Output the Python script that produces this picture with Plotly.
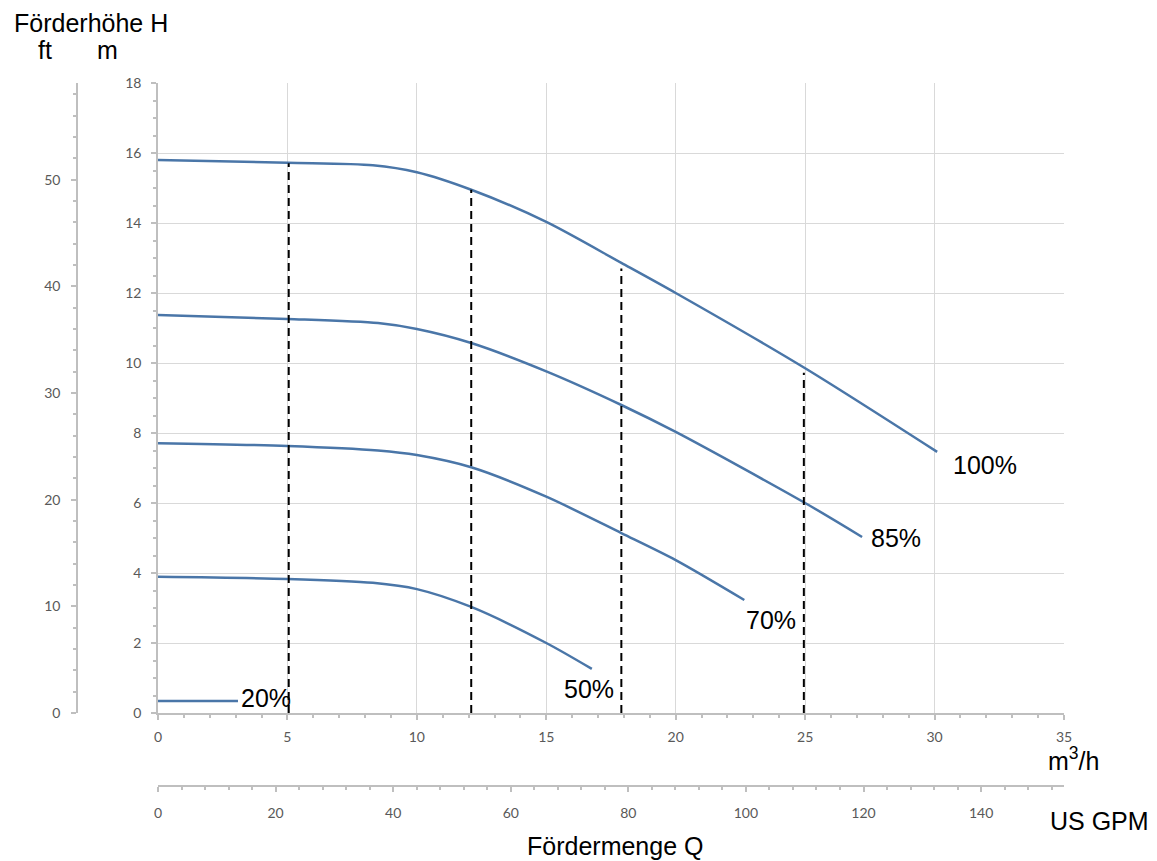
import plotly.graph_objects as go

# ---------------- data ----------------
Q_100 = [0, 5, 8.3, 10, 12.1, 15, 17.9, 20, 25, 30.1]
H_100 = [15.8, 15.72, 15.65, 15.45, 14.95, 14.03, 12.86, 12.0, 9.85, 7.46]
Q_85 = [0, 5, 8.5, 10, 12.1, 15, 17.9, 20, 25, 27.2]
H_85 = [11.37, 11.26, 11.14, 10.97, 10.57, 9.76, 8.8, 8.03, 6.0, 5.03]
Q_70 = [0, 5, 8.5, 10, 12.1, 15, 17.9, 20, 22.65]
H_70 = [7.71, 7.63, 7.5, 7.37, 7.02, 6.18, 5.14, 4.37, 3.23]
Q_50 = [0, 5, 8.3, 10, 12.1, 15, 16.76]
H_50 = [3.89, 3.83, 3.72, 3.54, 3.03, 2.0, 1.26]
Q_20 = [0, 3.09]
H_20 = [0.34, 0.34]

DASH_Q = [5.05, 12.1, 17.9, 24.95]
DASH_TOP = [15.71, 14.95, 12.7, 9.72]

LABEL_TEXT = ["100%", "85%", "70%", "50%", "20%"]
LABEL_Q = [30.67, 27.5, 22.67, 15.64, 3.17]
LABEL_H = [7.09, 5.0, 2.66, 0.69, 0.43]

Q_MAX = 35          # m3/h
H_MAX = 18          # m
M3H_TO_GPM = 4.40287
M_TO_FT = 1 / 0.3048

# ---------------- layout geometry ----------------
OFF = 8  # default page body margin
W, H = 1157 - OFF, 861 - OFF
ML, MR, MT, MB = 0, 93, 83 - OFF, 0
PW = W - ML - MR
PH = H - MT - MB


def px_x(px):
    return (px - OFF - ML) / PW


def px_y(py):
    return (H - MB - (py - OFF)) / PH


CURVE_COLOR = "#4a76a8"
AXIS_COLOR = "#bfbfbf"
GRID_COLOR = "#d9d9d9"
TICK_FONT = dict(family="Lato, Liberation Sans, Arial", size=14, color="#595959")
TEXT_FONT = dict(family="Liberation Sans, Arial", size=25, color="#000000")

fig = go.Figure()

for qs, hs in [(Q_100, H_100), (Q_85, H_85), (Q_70, H_70), (Q_50, H_50), (Q_20, H_20)]:
    fig.add_trace(go.Scatter(
        x=qs, y=hs, mode="lines",
        line=dict(color=CURVE_COLOR, width=2.5, shape="spline", smoothing=0.8),
        showlegend=False, hoverinfo="skip"))

for q, top in zip(DASH_Q, DASH_TOP):
    fig.add_trace(go.Scatter(
        x=[q, q], y=[0, top], mode="lines",
        line=dict(color="#000000", width=2, dash="8px,5px"),
        showlegend=False, hoverinfo="skip"))

# invisible traces to activate secondary axes
fig.add_trace(go.Scatter(x=[0], y=[0], xaxis="x2", yaxis="y", mode="markers",
                         marker=dict(opacity=0), showlegend=False, hoverinfo="skip"))
fig.add_trace(go.Scatter(x=[0], y=[0], xaxis="x", yaxis="y2", mode="markers",
                         marker=dict(opacity=0), showlegend=False, hoverinfo="skip"))

x_dom = [px_x(158), 1.0]
y_dom = [px_y(713), px_y(83)]

common_axis = dict(showline=True, linecolor=AXIS_COLOR, linewidth=1.5,
                   ticks="outside", tickcolor=AXIS_COLOR, ticklen=5, tickwidth=1.5,
                   tickfont=TICK_FONT, zeroline=False, automargin=False,
                   fixedrange=True)

fig.update_layout(
    width=W, height=H,
    template="none",
    paper_bgcolor="white", plot_bgcolor="white",
    margin=dict(l=ML, r=MR, t=MT, b=MB, pad=0),
    showlegend=False,
    xaxis=dict(domain=x_dom, range=[0, Q_MAX], dtick=5, tick0=0,
               showgrid=True, gridcolor=GRID_COLOR, gridwidth=1,
               anchor="y", ticklabelstandoff=5,
               minor=dict(dtick=1, ticks="outside", ticklen=3, tickcolor=AXIS_COLOR,
                          tickwidth=1.5, showgrid=False),
               **common_axis),
    yaxis=dict(domain=y_dom, range=[0, H_MAX], dtick=2, tick0=0,
               showgrid=True, gridcolor=GRID_COLOR, gridwidth=1,
               anchor="x", ticklabelstandoff=7,
               minor=dict(dtick=0.5, ticks="outside", ticklen=3, tickcolor=AXIS_COLOR,
                          tickwidth=1.5, showgrid=False),
               **common_axis),
    xaxis2=dict(overlaying="x", anchor="free", position=px_y(786), side="bottom",
                range=[0, Q_MAX * M3H_TO_GPM], dtick=20, tick0=0, showgrid=False,
                ticklabelstandoff=9,
                minor=dict(dtick=4, ticks="outside", ticklen=3, tickcolor=AXIS_COLOR,
                           tickwidth=1.5, showgrid=False),
                **common_axis),
    yaxis2=dict(overlaying="y", anchor="free", position=px_x(77), side="left",
                range=[0, H_MAX * M_TO_FT], dtick=10, tick0=0, showgrid=False,
                ticklabelstandoff=8,
                minor=dict(dtick=2, ticks="outside", ticklen=3, tickcolor=AXIS_COLOR,
                           tickwidth=1.5, showgrid=False),
                **common_axis),
)

annotations = [
    dict(text="Förderhöhe H", x=px_x(91), y=px_y(OFF), xanchor="center", yanchor="top"),
    dict(text="ft", x=px_x(45), y=px_y(50), xanchor="center", yanchor="middle"),
    dict(text="m", x=px_x(107), y=px_y(50), xanchor="center", yanchor="middle"),
    dict(text="m<sup>3</sup>/h", x=px_x(1047), y=px_y(759), xanchor="left", yanchor="middle"),
    dict(text="US GPM", x=px_x(1049), y=px_y(821), xanchor="left", yanchor="middle"),
    dict(text="Fördermenge Q", x=px_x(615), y=px_y(846), xanchor="center", yanchor="middle"),
]
for a in annotations:
    a.update(xref="paper", yref="paper", showarrow=False, font=TEXT_FONT, borderpad=0)
    fig.add_annotation(**a)

for t, q, h in zip(LABEL_TEXT, LABEL_Q, LABEL_H):
    fig.add_annotation(text=t, x=q, y=h, xref="x", yref="y", xanchor="left",
                       yanchor="middle", showarrow=False, font=TEXT_FONT, borderpad=0)

fig.write_html("out.html")
